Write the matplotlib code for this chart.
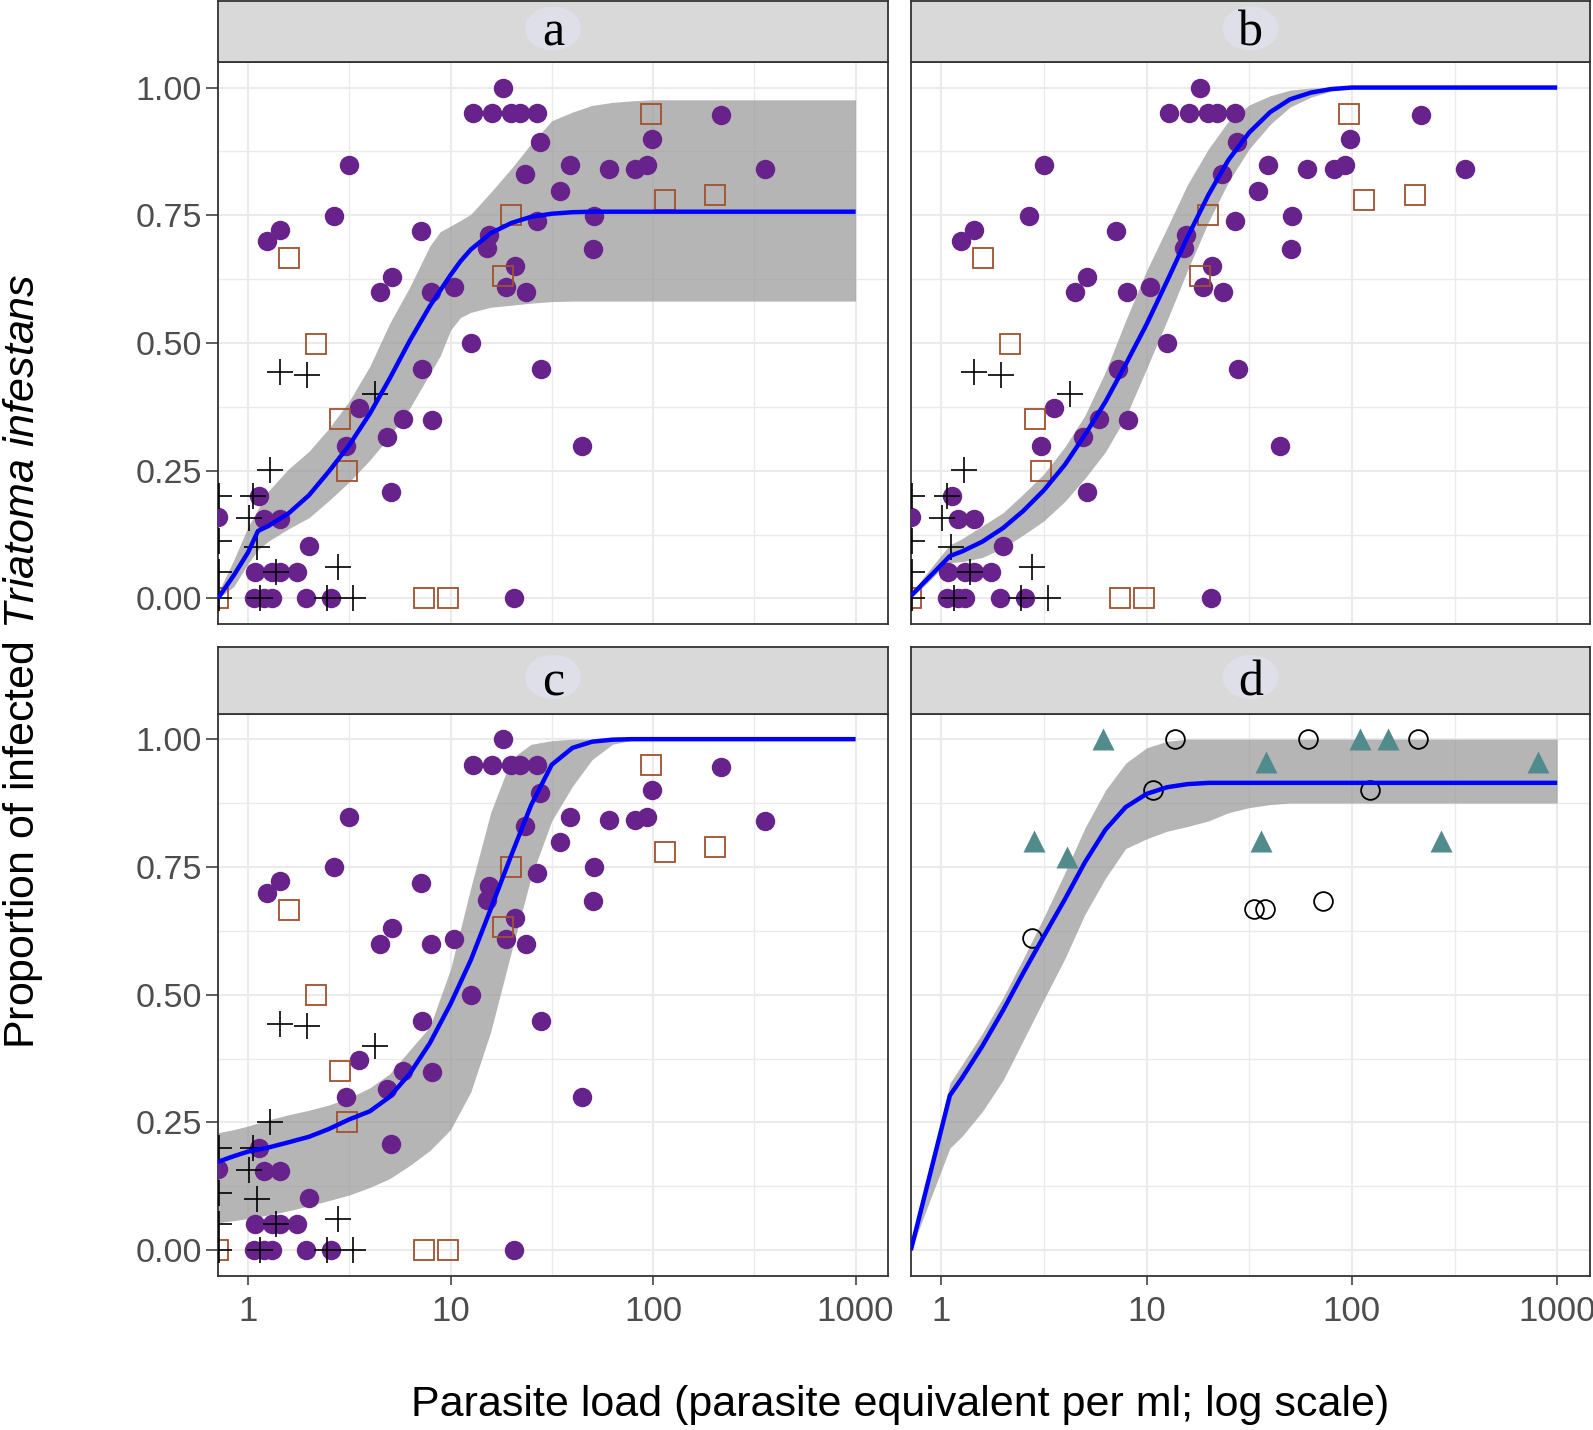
import numpy as np
import matplotlib
matplotlib.use('Agg')
import matplotlib.pyplot as plt
from matplotlib.patches import Ellipse

plt.rcParams['font.family'] = ['Liberation Sans', 'DejaVu Sans']
plt.rcParams['mathtext.fontset'] = 'custom'
plt.rcParams['mathtext.rm'] = 'Liberation Sans'
plt.rcParams['mathtext.it'] = 'Liberation Sans:italic'

#------------------- data (panels a, b, c share the points) -------------------

purple_load = [18.2, 12.9, 16.0, 19.8, 22.0, 26.8, 27.7, 23.3, 3.16, 2.67, 1.44, 1.24, 7.11, 5.14,
               4.48, 8.03, 10.4, 15.5, 15.2, 20.8, 18.8, 23.5, 12.6, 7.25, 28.0, 3.54, 5.83, 8.12,
               3.05, 4.88, 5.11, 1.13, 0.71, 1.2, 1.44, 1.99, 1.08, 1.31, 1.44, 1.74, 1.07, 1.2,
               1.31, 1.94, 2.56, 20.6, 39.1, 34.7, 60.3, 81.6, 93.0, 98.4, 216, 355, 26.8, 50.9,
               50.5, 44.6]
purple_prop = [1.0, 0.95, 0.95, 0.95, 0.95, 0.95, 0.894, 0.83, 0.848, 0.749, 0.722, 0.699, 0.719, 0.63,
               0.60, 0.599, 0.609, 0.712, 0.685, 0.65, 0.609, 0.599, 0.50, 0.449, 0.449, 0.372, 0.351,
               0.349, 0.299, 0.316, 0.208, 0.20, 0.159, 0.156, 0.156, 0.102, 0.051, 0.051, 0.051,
               0.051, 0.0, 0.0, 0.0, 0.0, 0.0, 0.0, 0.848, 0.798, 0.841, 0.841, 0.848, 0.90, 0.946,
               0.84, 0.738, 0.749, 0.684, 0.299]

square_load = [97.3, 114, 202, 19.8, 18.1, 1.59, 2.16, 2.85, 3.07, 7.39, 9.69, 0.71]
square_prop = [0.949, 0.78, 0.789, 0.75, 0.632, 0.666, 0.499, 0.351, 0.25, 0.0, 0.0, 0.0]

plus_load = [1.44, 1.95, 4.23, 1.29, 1.06, 0.72, 1.01, 0.72, 1.11, 0.72, 1.38, 2.77, 1.15, 2.45, 3.29, 0.72]
plus_prop = [0.443, 0.438, 0.40, 0.251, 0.20, 0.20, 0.157, 0.112, 0.10, 0.051, 0.051, 0.062,
             0.0, 0.0, 0.0, 0.0]

# panel d
tri_load = [6.12, 2.82, 4.08, 38.2, 36.0, 110, 150, 271, 808]
tri_prop = [1.0, 0.80, 0.77, 0.955, 0.80, 1.0, 1.0, 0.80, 0.955]
circ_load = [13.8, 61.2, 210, 10.7, 122, 2.75, 33.2, 37.9, 72.0]
circ_prop = [1.0, 1.0, 1.0, 0.9, 0.9, 0.61, 0.667, 0.667, 0.684]

# fitted curves and bands
fit_a_load = [0.71, 0.85, 1.0, 1.12, 1.26, 1.58, 2.0, 2.5, 3.16, 4.0, 5.0, 6.3, 7.9, 8.9, 10,
              11.2, 12.6, 15.8, 20, 25, 31.6, 40, 50, 63, 79, 100, 1000]
fit_a = [0.0, 0.045, 0.09, 0.132, 0.142, 0.166, 0.202, 0.248, 0.300, 0.362, 0.430, 0.505, 0.572,
         0.603, 0.633, 0.660, 0.683, 0.715, 0.735, 0.747, 0.753, 0.756, 0.757, 0.757, 0.757, 0.757, 0.757]
lo_a = [0.0, 0.023, 0.068, 0.095, 0.112, 0.136, 0.158, 0.191, 0.228, 0.271, 0.317, 0.373, 0.44,
        0.475, 0.525, 0.55, 0.56, 0.57, 0.574, 0.578, 0.581, 0.582, 0.582, 0.582, 0.582, 0.582, 0.582]
hi_a = [0.01, 0.075, 0.14, 0.175, 0.21, 0.253, 0.288, 0.332, 0.386, 0.455, 0.538, 0.61, 0.69,
        0.718, 0.729, 0.74, 0.752, 0.795, 0.842, 0.89, 0.935, 0.952, 0.965, 0.971, 0.974, 0.976, 0.976]

fit_b_load = [0.71, 0.85, 1.0, 1.1, 1.26, 1.58, 2.0, 2.5, 3.16, 4.0, 5.0, 6.3, 7.9, 10, 12.6,
              15.8, 20, 25, 31.6, 40, 50, 63, 79, 100, 126, 1000]
fit_b = [0.005, 0.037, 0.066, 0.083, 0.092, 0.111, 0.138, 0.171, 0.212, 0.262, 0.32, 0.385, 0.458,
         0.537, 0.622, 0.707, 0.79, 0.858, 0.912, 0.952, 0.977, 0.99, 0.997, 1.0, 1.0, 1.0]
lo_b = [0.0, 0.03, 0.058, 0.07, 0.072, 0.08, 0.099, 0.124, 0.152, 0.19, 0.235, 0.287, 0.355, 0.45,
        0.545, 0.642, 0.737, 0.815, 0.88, 0.928, 0.962, 0.981, 0.993, 0.998, 1.0, 1.0]
hi_b = [0.009, 0.05, 0.085, 0.105, 0.117, 0.142, 0.168, 0.204, 0.244, 0.297, 0.358, 0.444, 0.544,
        0.642, 0.726, 0.81, 0.88, 0.934, 0.966, 0.984, 0.995, 0.999, 1.0, 1.0, 1.0, 1.0]

fit_c_load = [0.71, 0.85, 1.0, 1.26, 1.58, 2.0, 2.5, 3.16, 4.0, 5.0, 6.3, 7.9, 10, 12.6, 15.8,
              20, 25, 31.6, 40, 50, 63, 79, 100, 1000]
fit_c = [0.173, 0.184, 0.193, 0.201, 0.211, 0.222, 0.237, 0.256, 0.272, 0.30, 0.346, 0.405, 0.482,
         0.568, 0.668, 0.774, 0.871, 0.95, 0.983, 0.995, 0.999, 1.0, 1.0, 1.0]
lo_c = [0.054, 0.058, 0.062, 0.069, 0.077, 0.087, 0.097, 0.108, 0.123, 0.14, 0.166, 0.195, 0.236,
        0.31, 0.428, 0.585, 0.73, 0.84, 0.908, 0.96, 0.99, 0.998, 1.0, 1.0]
hi_c = [0.23, 0.236, 0.243, 0.255, 0.265, 0.274, 0.284, 0.298, 0.318, 0.345, 0.392, 0.437, 0.55,
        0.71, 0.857, 0.962, 0.99, 0.997, 1.0, 1.0, 1.0, 1.0, 1.0, 1.0]

fit_d_load = [0.71, 1.1, 1.26, 1.58, 2.0, 2.5, 3.16, 4.0, 5.0, 6.3, 7.9, 10, 12.6, 15.8, 20, 25,
              31.6, 40, 50, 1000]
fit_d = [0.0, 0.303, 0.337, 0.399, 0.47, 0.542, 0.615, 0.687, 0.759, 0.823, 0.867, 0.893, 0.906,
         0.912, 0.9145, 0.9145, 0.9145, 0.9145, 0.9145, 0.9145]
lo_d = [0.0, 0.2, 0.223, 0.271, 0.333, 0.41, 0.491, 0.571, 0.657, 0.728, 0.786, 0.805, 0.82, 0.829,
        0.84, 0.856, 0.866, 0.872, 0.875, 0.875]
hi_d = [0.0, 0.327, 0.363, 0.424, 0.495, 0.57, 0.652, 0.739, 0.826, 0.90, 0.953, 0.983, 0.996,
        1.0, 1.0, 1.0, 1.0, 1.0, 1.0, 1.0]

panel_names = ['a', 'b', 'c', 'd']
x_ticks = [1, 10, 100, 1000]
x_tick_labels = ['1', '10', '100', '1000']
y_ticks = [0, 0.25, 0.5, 0.75, 1.0]
y_tick_labels = ['0.00', '0.25', '0.50', '0.75', '1.00']

#------------------- layout (pixels of the 1593x1430 picture) -------------------
W, H = 1593, 1430
cols = [(218, 670), (911, 679)]
rows = [(62, 624), (713.6, 1275.8)]
strips = [(1, 62), (647, 713.6)]

PURPLE = '#68228B'
SIENNA = '#A0522D'
TEAL = '#528B8B'
BORDER = '#333333'

fig = plt.figure(figsize=(W / 100, H / 100), dpi=100)


def make_panel(i):
    r, c = divmod(i, 2)
    x0, w = cols[c]
    top, bot = rows[r]
    ax = fig.add_axes([x0 / W, 1 - bot / H, w / W, (bot - top) / H])
    ax.set_xscale('log')
    ax.set_xlim(0.711, 1445)
    ax.set_ylim(-0.05, 1.05)
    ax.set_xticks(x_ticks)
    ax.set_xticklabels(x_tick_labels)
    ax.set_xticks([10 ** 0.5, 10 ** 1.5, 10 ** 2.5], minor=True)
    ax.set_yticks(y_ticks)
    ax.set_yticklabels(y_tick_labels)
    ax.set_yticks([0.125, 0.375, 0.625, 0.875], minor=True)
    ax.grid(which='major', color='#EBEBEB', lw=1.5)
    ax.grid(which='minor', color='#EBEBEB', lw=1.0)
    ax.set_axisbelow(True)
    for s in ax.spines.values():
        s.set_color(BORDER)
        s.set_linewidth(1.3)
    ax.tick_params(which='minor', length=0)
    ax.tick_params(axis='y', which='major', length=8.5, width=1.1, color=BORDER,
                   labelsize=24.5, labelcolor='#4D4D4D', pad=3)
    ax.tick_params(axis='x', which='major', length=6.5, width=1.1, color=BORDER,
                   labelsize=25, labelcolor='#4D4D4D', pad=7)
    if c == 1:
        ax.tick_params(axis='y', left=False, labelleft=False)
    if r == 0:
        ax.tick_params(axis='x', bottom=False, labelbottom=False)

    # strip
    st, sb = strips[r]
    sax = fig.add_axes([x0 / W, 1 - sb / H, w / W, (sb - st) / H])
    sax.set_facecolor('#D9D9D9')
    sax.set_xlim(0, 1)
    sax.set_ylim(0, 1)
    sax.set_xticks([])
    sax.set_yticks([])
    for s in sax.spines.values():
        s.set_color(BORDER)
        s.set_linewidth(1.3)
    sax.add_patch(Ellipse((0.5, 0.55), 56 / w, 44 / (sb - st), color='#DFDFE9', lw=0))
    sax.text(0.5, 0.27, panel_names[i], ha='center', va='baseline', fontsize=36,
             family=['Liberation Serif', 'DejaVu Serif'])
    return ax


def draw_common(ax, load, fit, lo, hi):
    ax.fill_between(load, lo, hi, color='#999999', alpha=0.72, lw=0, zorder=2)
    ax.plot(purple_load, purple_prop, 'o', ms=14, color=PURPLE, mec='none', zorder=3)
    ax.plot(square_load, square_prop, 's', ms=14, mfc='none', mec=SIENNA, mew=1.3, zorder=3)
    ax.plot(plus_load, plus_prop, '+', ms=19, color='black', mew=1.2, zorder=3)
    ax.plot(load, fit, color='#0000FF', lw=3.2, zorder=4, solid_capstyle='butt')


ax_a = make_panel(0)
draw_common(ax_a, fit_a_load, fit_a, lo_a, hi_a)
ax_b = make_panel(1)
draw_common(ax_b, fit_b_load, fit_b, lo_b, hi_b)
ax_c = make_panel(2)
draw_common(ax_c, fit_c_load, fit_c, lo_c, hi_c)

ax_d = make_panel(3)
ax_d.fill_between(fit_d_load, lo_d, hi_d, color='#999999', alpha=0.72, lw=0, zorder=2)
ax_d.plot(tri_load, tri_prop, '^', ms=16, color=TEAL, mec='none', zorder=3)
ax_d.plot(circ_load, circ_prop, 'o', ms=13.5, mfc='none', mec='black', mew=1.3, zorder=3)
ax_d.plot(fit_d_load, fit_d, color='#0000FF', lw=3.2, zorder=4, solid_capstyle='butt')

fig.text(23 / W, 1 - 661 / H, r'Proportion of infected $\mathit{Triatoma\ infestans}$',
         rotation=90, fontsize=31, ha='center', va='center')
fig.text(900 / W, 1 - 1405 / H, 'Parasite load (parasite equivalent per ml; log scale)',
         fontsize=31, ha='center', va='center')

fig.savefig('out.png', dpi=100)
